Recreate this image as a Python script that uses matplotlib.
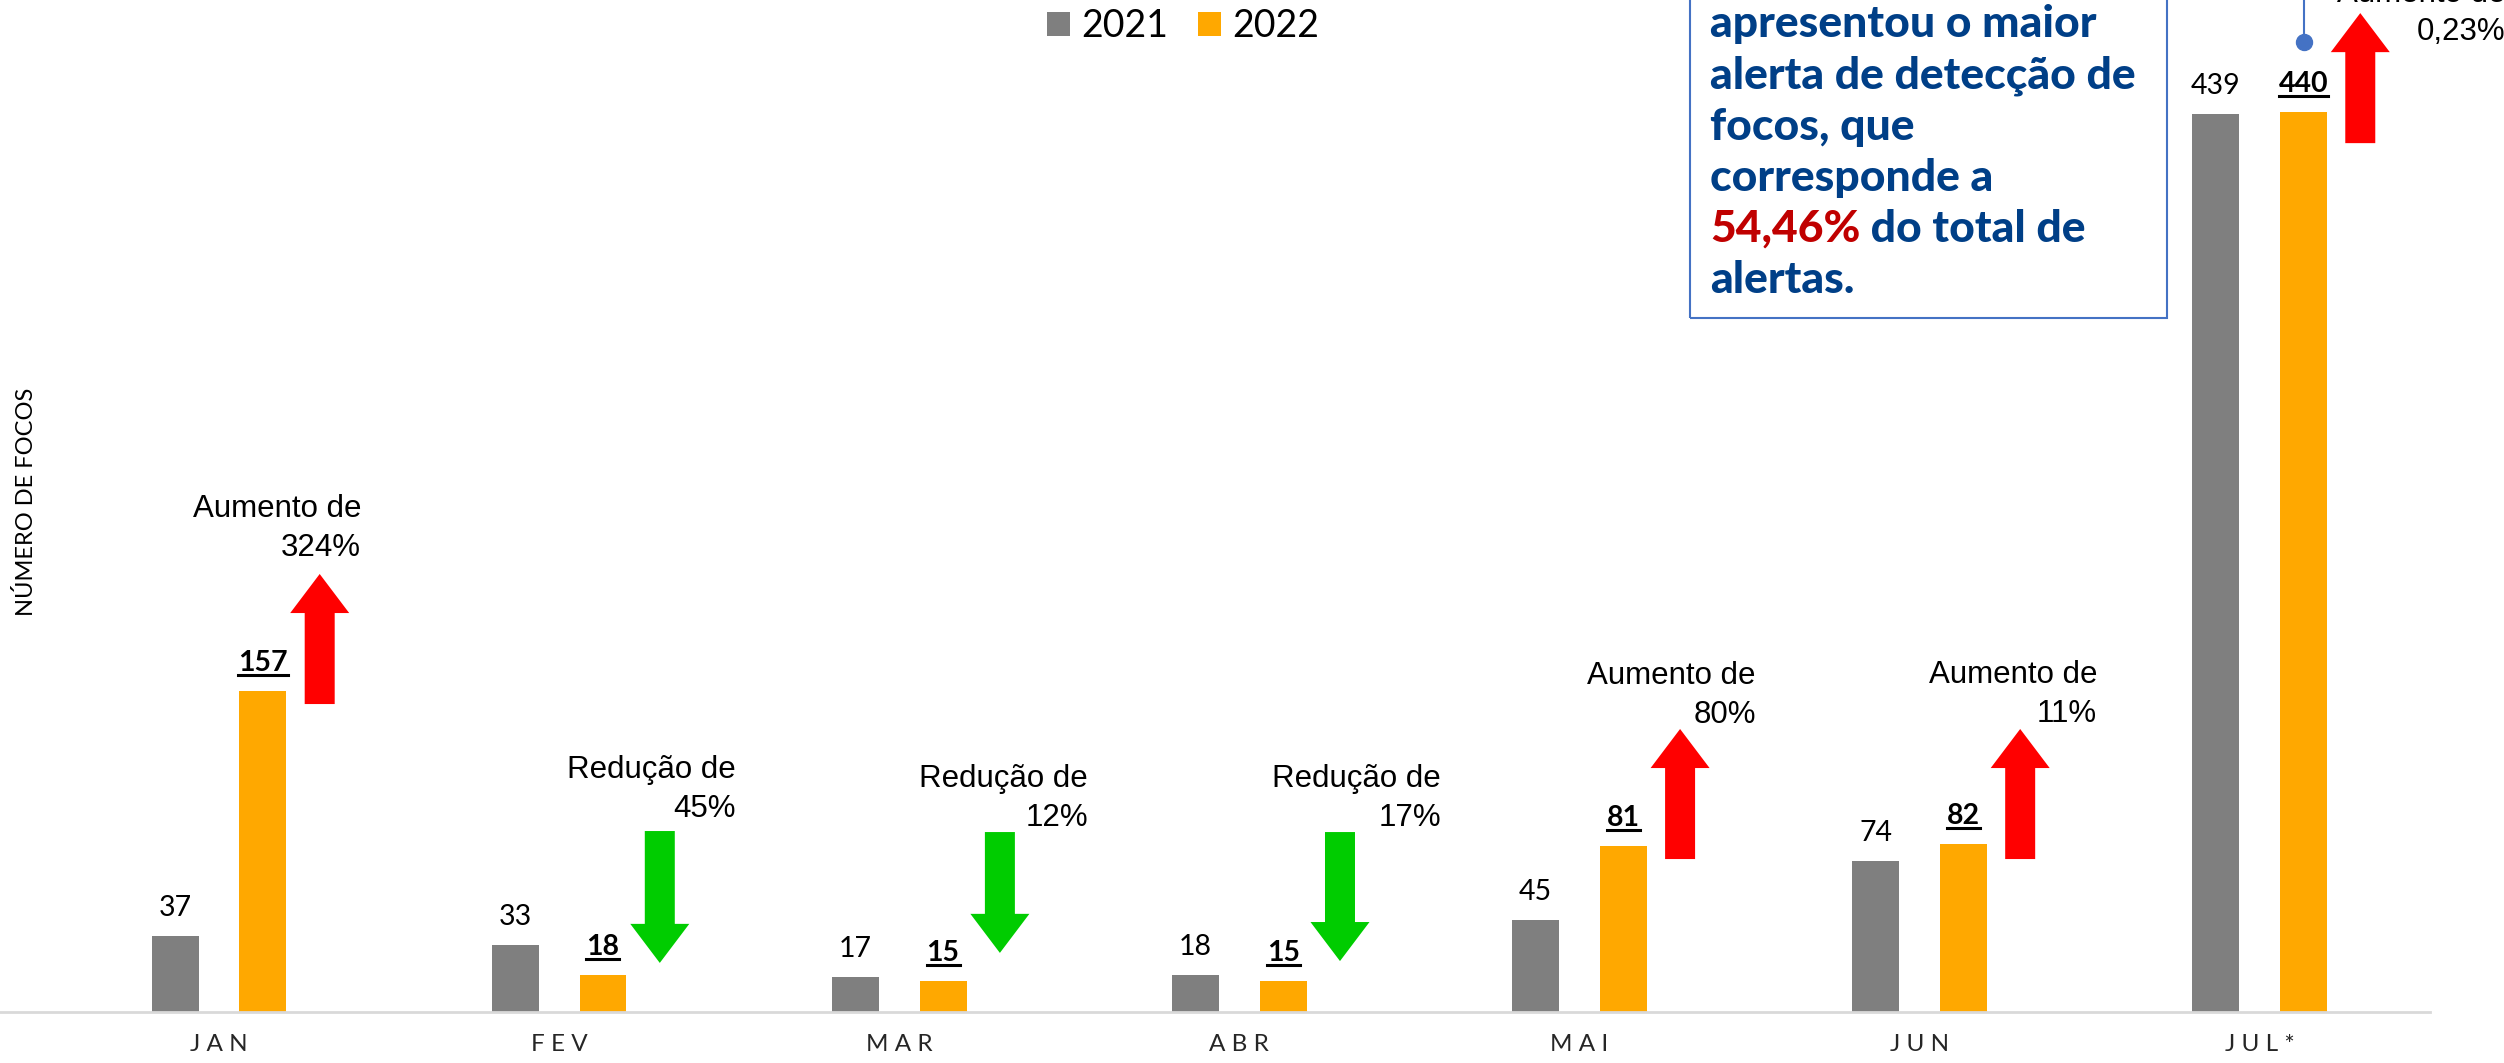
import matplotlib
matplotlib.use("Agg")
import matplotlib.pyplot as plt
import numpy as np
from matplotlib.patches import FancyArrow, Rectangle
from matplotlib.lines import Line2D

# Dados
meses = ["JAN", "FEV", "MAR", "ABR", "MAI", "JUN", "JUL*"]
focos_2021 = [37, 33, 17, 18, 45, 74, 439]
focos_2022 = [157, 18, 15, 15, 81, 82, 440]
variacao = ["324%", "45%", "12%", "17%", "80%", "11%", "0,23%"]

# setas: inicio e ponta (unidades do eixo y)
seta_ini = [150.6, 88.5, 88.0, 88.0, 74.8, 74.8, 424.9]
seta_fim = [214.2, 24.0, 28.9, 24.9, 138.4, 138.4, 488.5]
# textos de variacao: deslocamento x (borda direita) e linha de base
texto_dx = [0.418, 0.520, 0.555, 0.593, 0.519, 0.522, 0.722]
texto_y = [242.1, 114.4, 110.0, 110.0, 160.4, 160.9, 494.1]

W, H = 2504, 1063
fig = plt.figure(figsize=(W / 100, H / 100), dpi=100)
ax = fig.add_axes([0, 51 / H, 2430 / W, 1012 / H])

x = np.arange(len(meses))
larg = 0.138
desl = 0.129
ax.bar(x - desl, focos_2021, width=larg, color="#7F7F7F", label="2021")
ax.bar(x + desl, focos_2022, width=larg, color="#FFA800", label="2022")

ax.set_xlim(-0.644, 6.501)
ax.set_ylim(0, 494.9)
for s in ["top", "left", "right"]:
    ax.spines[s].set_visible(False)
ax.spines["bottom"].set_color("#D9D9D9")
ax.spines["bottom"].set_linewidth(2)
ax.set_yticks([])
ax.set_xticks(x)
ax.set_xticklabels([" ".join(m) for m in meses], fontsize=17.5, family="Lato", color="#262626")
ax.tick_params(axis="x", length=0, pad=16)

# rotulos dos valores
negritos = []
for i in range(len(meses)):
    ax.annotate(str(focos_2021[i]), (x[i] - desl, focos_2021[i]), xytext=(0, 14.4),
                textcoords="offset points", ha="center", va="baseline",
                fontsize=20.5, family="Lato", color="#000000")
    t = ax.annotate(str(focos_2022[i]), (x[i] + desl, focos_2022[i]), xytext=(0, 14.4),
                    textcoords="offset points", ha="center", va="baseline",
                    fontsize=20.5, family="Lato", fontweight="bold", color="#000000")
    negritos.append((t, x[i] + desl, focos_2022[i]))

# setas e textos de variacao
for i in range(len(meses)):
    sobe = focos_2022[i] >= focos_2021[i]
    cor = "#FF0000" if sobe else "#00CC00"
    ax.add_patch(FancyArrow(x[i] + 0.296, seta_ini[i], 0, seta_fim[i] - seta_ini[i],
                            width=0.0882, head_width=0.1735, head_length=19.1,
                            length_includes_head=True, color=cor, lw=0))
    palavra = "Aumento de" if sobe else "Redução de"
    ax.text(x[i] + texto_dx[i], texto_y[i], palavra, ha="right", va="baseline",
            fontsize=22.5, family="Liberation Sans", color="#000000")
    ax.text(x[i] + texto_dx[i], texto_y[i] - 18.9, variacao[i], ha="right", va="baseline",
            fontsize=22.5, family="Liberation Sans", color="#000000")

fig.text(26 / W, 1 - 502 / H, "NÚMERO DE FOCOS", rotation=90, ha="center", va="center",
         fontsize=17, family="Lato", color="#000000")

fig.legend(loc="center", bbox_to_anchor=(0.4725, 0.9755), ncol=2, frameon=False,
           prop={"family": "Lato", "size": 27}, handlelength=0.6, handleheight=0.62,
           handletextpad=0.3, columnspacing=0.8, borderpad=0, borderaxespad=0)

# caixa de texto
fig.add_artist(Rectangle((1690 / W, 1 - 318 / H), (2167 - 1690) / W, 0.5,
                         transform=fig.transFigure, fill=False, ec="#4472C4", lw=1.5))
azul = "#003F87"
linhas = ["apresentou o maior", "alerta de detecção de", "focos, que", "corresponde a",
          None, "alertas."]
bases = [37, 89, 140, 191, 242, 293]
estilo = dict(fontsize=32, family="Lato", fontweight="black", va="baseline", ha="left")
for txt, b in zip(linhas, bases):
    if txt is not None:
        fig.text(1710 / W, 1 - b / H, txt, color=azul, **estilo)
verm = fig.text(1710 / W, 1 - 242 / H, "54,46%", color="#C00000", **estilo)

# conector
fig.add_artist(Line2D([2304 / W, 2304 / W], [1 - 42 / H, 1.05], transform=fig.transFigure,
                      color="#4472C4", lw=1.5))
fig.add_artist(Line2D([2304 / W], [1 - 42 / H], transform=fig.transFigure, marker="o",
                      ms=11.5, color="#4472C4", lw=0))

fig.canvas.draw()
r = fig.canvas.get_renderer()
bb = verm.get_window_extent(r)
fig.text(bb.x1 / W, 1 - 242 / H, " do total de", color=azul, **estilo)

# sublinhado dos valores de 2022
for t, xv, yv in negritos:
    bb = t.get_window_extent(r)
    yb = ax.transData.transform((xv, yv))[1] + 20 - 4
    fig.add_artist(Line2D([bb.x0 / W, bb.x1 / W], [yb / H, yb / H], transform=fig.transFigure,
                          color="#000000", lw=2.2))

fig.savefig("out.png", dpi=100)
